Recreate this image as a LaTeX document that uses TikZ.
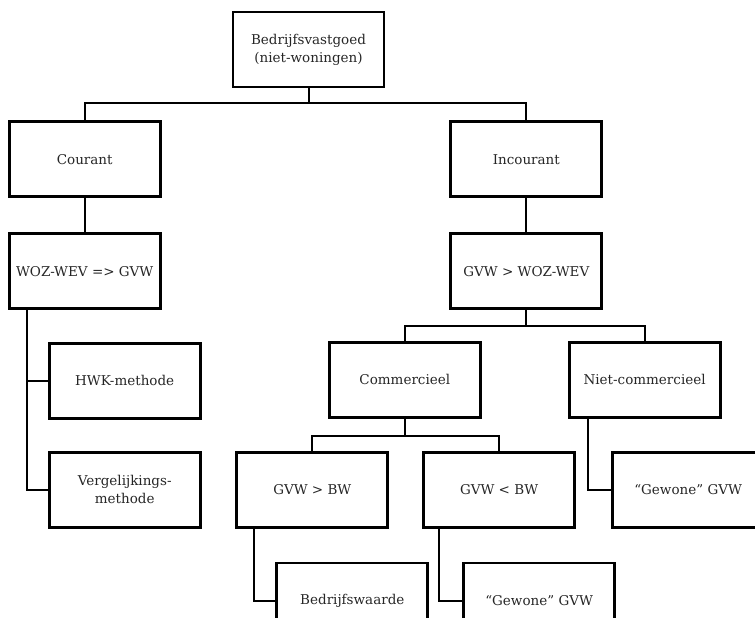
\documentclass[tikz,border=0pt]{standalone}
\usepackage{fontspec}
\setmainfont{DejaVu Serif}
\usetikzlibrary{positioning}

\begin{document}
\begin{tikzpicture}[
    x=1pt, y=1pt,
    box/.style = {rectangle, draw, line width=2.8pt, minimum width=151pt,
                  minimum height=75pt, inner sep=2pt, align=center,
                  text=black!85, font=\fontsize{13.5}{18}\selectfont},
    line width=2pt
]
\useasboundingbox (0,0) rectangle (755,-618);
\clip (0,0) rectangle (755,-618);

% Level 1
\node[box] (root) at (308.5,-49.5) {Bedrijfsvastgoed\\(niet-woningen)};

% Level 2
\node[box] (courant)   [below left=32pt and 70pt of root]  {Courant};
\node[box] (incourant) [below right=32pt and 64pt of root] {Incourant};

% Level 3
\node[box] (woz)    [below=34pt of courant]   {WOZ-WEV => GVW};
\node[box] (gvwwoz) [below=34pt of incourant] {GVW > WOZ-WEV};

% Level 4
\node[box] (hwk)  [below=32pt of woz, xshift=40pt] {HWK-methode};
\node[box] (verg) [below=31pt of hwk]              {Vergelijkings-\\methode};
\node[box] (comm) [below=31pt of gvwwoz, xshift=-121.5pt] {Commercieel};
\node[box] (niet) [right=86pt of comm]                    {Niet-commercieel};

% Level 5
\node[box] (gbw)     [below=32pt of comm, xshift=-92.5pt] {GVW > BW};
\node[box] (kbw)     [right=33pt of gbw]                  {GVW < BW};
\node[box] (gewone1) [below=32pt of niet, xshift=43.5pt]  {``Gewone'' GVW};

% Level 6
\node[box] (bedr)    [below=33pt of gbw, xshift=40pt] {Bedrijfswaarde};
\node[box] (gewone2) [below=33pt of kbw, xshift=40pt] {``Gewone'' GVW};

% Edges
\draw (root.south) -- ++(0,-15) -| (courant.north);
\draw (root.south) -- ++(0,-15) -| (incourant.north);
\draw (courant) -- (woz);
\draw (incourant) -- (gvwwoz);
\draw ([xshift=-57.5pt]woz.south) |- (hwk.west);
\draw ([xshift=-57.5pt]woz.south) |- (verg.west);
\draw (gvwwoz.south) -- ++(0,-15.5) -| (comm.north);
\draw (gvwwoz.south) -- ++(0,-15.5) -| (niet.north);
\draw (comm.south) -- ++(0,-17) -| (gbw.north);
\draw (comm.south) -- ++(0,-17) -| (kbw.north);
\draw ([xshift=-56.5pt]niet.south) |- (gewone1.west);
\draw ([xshift=-58pt]gbw.south) |- (bedr.west);
\draw ([xshift=-60.5pt]kbw.south) |- (gewone2.west);

\end{tikzpicture}
\end{document}
